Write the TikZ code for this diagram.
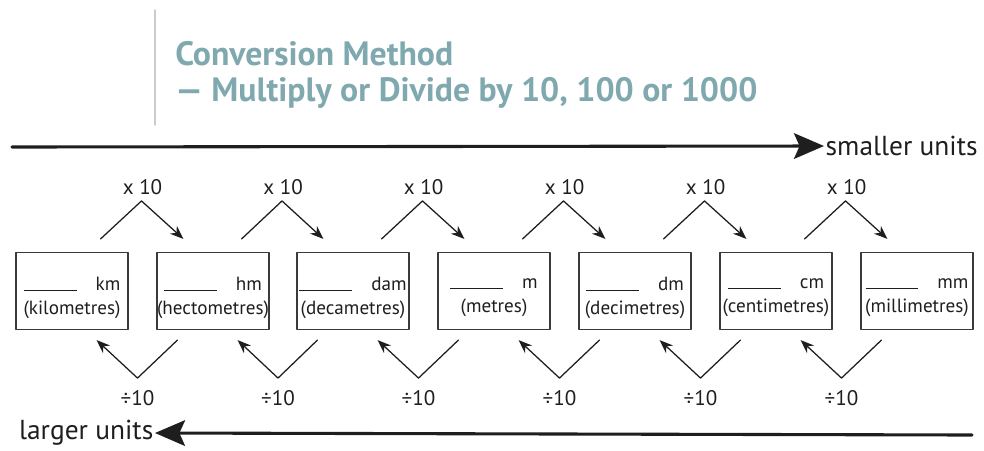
\documentclass[tikz,border=0pt]{standalone}
\usepackage{fontspec}
\setmainfont{PT Sans}
\usetikzlibrary{arrows.meta,calc}
\definecolor{ink}{HTML}{1E1E1E}
\definecolor{frame}{HTML}{3A3A3A}
\definecolor{heading}{HTML}{7FA8AF}
\definecolor{rulegray}{HTML}{CACDCE}

\newcommand{\blankline}{\rule[-.3pt]{1.32cm}{.6pt}}

\begin{document}
\begin{tikzpicture}[
  x=.025cm,y=-.025cm,
  line cap=round,line join=round,
  unitbox/.style={draw=frame, line width=.8pt, minimum width=2.8cm, minimum height=1.925cm, inner sep=0pt},
  unittext/.style={inner sep=0pt, align=center, font=\fontsize{13.6}{17}\selectfont, text=ink},
  factor/.style={font=\fontsize{15}{17}\selectfont, text=ink, inner sep=1pt},
  dirlabel/.style={font=\fontsize{19.5}{22}\selectfont, text=ink, inner sep=1pt},
  heading/.style={font=\bfseries\fontsize{24}{28}\selectfont, text=heading, anchor=base west, inner sep=0pt},
  bigarrow/.style={draw=ink, line width=2.2pt, -{Stealth[length=7.5mm,width=6.4mm,inset=1.4mm]}},
  chev/.style={draw=ink, line width=.9pt, -{Stealth[length=3.4mm,width=2.6mm]}}
]
\useasboundingbox (0,0) rectangle (984,450);

% heading
\draw[rulegray,line width=1pt] (155,10) -- (155,125);
\node[heading] (title) at (175,65) {Conversion Method};
\node[heading] (subtitle) at (175,101) {— Multiply or Divide by 10, 100 or 1000};

% direction arrows
\coordinate (topstart) at (12,147);
\node[dirlabel,anchor=west] (smaller) at (824,146) {smaller units};
\draw[bigarrow] (topstart) -- (smaller.west);
\coordinate (botstart) at (972,435);
\node[dirlabel,anchor=east] (larger) at (155,433) {larger units};
\draw[bigarrow] (botstart) -- (larger.east);

% unit boxes
\foreach \unit/\x/\full in {km/72/kilometres, hm/213/hectometres, dam/353/decametres,
    m/494/metres, dm/635/decimetres, cm/776/centimetres, mm/917/millimetres}{
  \node[unitbox] (\unit) at (\x,291) {};
  \node[unittext] (\unit-name) at ($(\unit)+(0,7)$) {\blankline\quad\unit\\(\full)};
}

% multiply and divide chevrons between neighbours
\foreach \a/\b [count=\i] in {km/hm, hm/dam, dam/m, m/dm, dm/cm, cm/mm}{
  \node[factor] (mul\i) at ($(\a.north east)!.5!(\b.north west)+(0,-65)$) {x 10};
  \draw[chev] ($(\a.north east)+(-28,-13)$) -- ($(mul\i)+(-1,14)$) -- ($(\b.north west)+(27,-13)$);
  \node[factor] (div\i) at ($(\a.south east)!.5!(\b.south west)+(-5,68)$) {÷10};
  \draw[chev] ($(\b.south west)+(21,10)$) -- ($(div\i)+(0,-20)$) -- ($(\a.south east)+(-32,10)$);
}
\end{tikzpicture}
\end{document}
